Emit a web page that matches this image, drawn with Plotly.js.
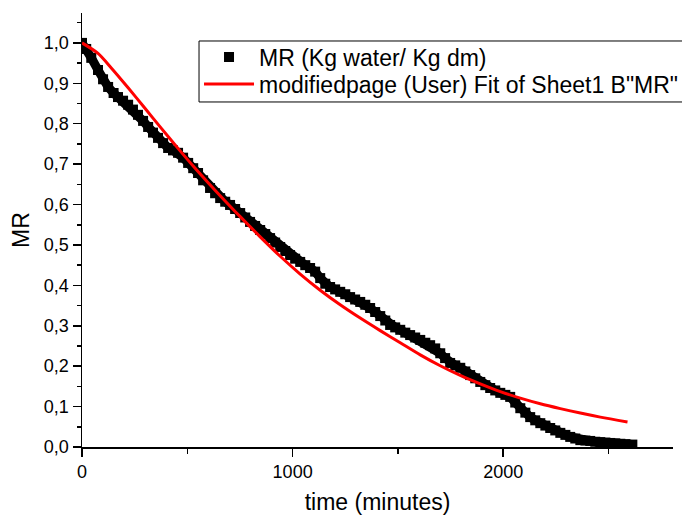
<!DOCTYPE html>
<html>
<head>
<meta charset="utf-8">
<script src="https://cdn.plot.ly/plotly-3.0.1.min.js"></script>
<style>html,body{margin:0;padding:0;background:#fff;}#chart{width:682px;height:515px;}</style>
</head>
<body>
<div id="chart"></div>
<script>
const timeData = [0, 20, 44, 76, 100, 124, 150, 171, 195, 219, 242, 266, 290, 314, 337, 361, 385, 409, 432, 456,
  480, 504, 528, 551, 575, 608, 632, 656, 680, 703, 727, 751, 775, 798, 822, 846, 870, 893, 917, 941,
  965, 988, 1012, 1036, 1060, 1083, 1107, 1131, 1155, 1178, 1202, 1226, 1250, 1273, 1297, 1321, 1345, 1368, 1392, 1416,
  1440, 1463, 1487, 1511, 1535, 1558, 1582, 1606, 1630, 1653, 1677, 1701, 1724, 1748, 1772, 1796, 1820, 1843, 1867, 1891,
  1915, 1938, 1962, 1986, 2010, 2033, 2057, 2081, 2105, 2128, 2152, 2176, 2200, 2223, 2247, 2271, 2295, 2318, 2342, 2366,
  2390, 2413, 2437, 2461, 2485, 2508, 2532, 2556, 2580, 2613];
const mrData = [1.000, 0.985, 0.963, 0.933, 0.910, 0.891, 0.876, 0.866, 0.857, 0.847, 0.835, 0.822, 0.807, 0.792, 0.778, 0.765, 0.752, 0.740, 0.734, 0.728,
  0.716, 0.703, 0.690, 0.678, 0.660, 0.641, 0.628, 0.616, 0.607, 0.599, 0.589, 0.579, 0.568, 0.557, 0.547, 0.537, 0.527, 0.517, 0.506, 0.495,
  0.485, 0.475, 0.466, 0.458, 0.450, 0.443, 0.434, 0.418, 0.404, 0.396, 0.390, 0.384, 0.378, 0.371, 0.365, 0.359, 0.352, 0.344, 0.334, 0.324,
  0.313, 0.302, 0.296, 0.290, 0.283, 0.277, 0.271, 0.265, 0.258, 0.252, 0.244, 0.232, 0.220, 0.208, 0.202, 0.196, 0.187, 0.178, 0.170, 0.161,
  0.153, 0.146, 0.140, 0.134, 0.129, 0.124, 0.110, 0.096, 0.085, 0.074, 0.066, 0.059, 0.053, 0.047, 0.041, 0.035, 0.030, 0.025, 0.021, 0.017,
  0.016, 0.015, 0.013, 0.012, 0.011, 0.010, 0.009, 0.008, 0.007, 0.006];

// Fitted curve
const timeFit = [0, 76, 139, 219, 298, 376, 456, 535, 599, 656, 751, 846, 941, 1036, 1131, 1226, 1321, 1416, 1511, 1606,
  1701, 1796, 1891, 1986, 2081, 2176, 2271, 2366, 2461, 2590];
const mrFit = [1.000, 0.974, 0.938, 0.889, 0.839, 0.789, 0.739, 0.691, 0.654, 0.622, 0.570, 0.520, 0.472, 0.428, 0.388, 0.352, 0.319, 0.288, 0.258, 0.228,
  0.201, 0.177, 0.156, 0.137, 0.121, 0.107, 0.095, 0.084, 0.074, 0.062];

const seriesNames = ['MR (Kg water/ Kg dm)', 'modifiedpage (User) Fit of Sheet1 B"MR"'];
const xTitle = 'time (minutes)';
const yTitle = 'MR';

const FONT = 'Liberation Sans, Arial, Helvetica, sans-serif';

const traces = [
  { // dense band joining the measured squares
    x: timeData, y: mrData, type: 'scatter', mode: 'lines', showlegend: false, hoverinfo: 'skip',
    line: {color: '#000000', width: 9}
  },
  {
    x: timeData, y: mrData, name: seriesNames[0], type: 'scatter', mode: 'markers', legend: 'legend',
    marker: {symbol: 'square', size: 10, color: '#000000', line: {width: 0}}
  },
  {
    x: timeFit, y: mrFit, name: seriesNames[1], type: 'scatter', mode: 'lines', legend: 'legend2',
    line: {color: '#ff0000', width: 3, shape: 'spline', smoothing: 0.8}
  }
];

const axisCommon = {
  showline: true, linecolor: '#000', linewidth: 1.5, mirror: false,
  showgrid: false, zeroline: false,
  ticks: 'outside', ticklen: 8, tickwidth: 1.5, tickcolor: '#000',
  tickfont: {family: FONT, size: 18, color: '#000'}
};

const legendCommon = {
  x: 0.198, xanchor: 'left', yanchor: 'top',
  borderwidth: 0, bgcolor: 'rgba(0,0,0,0)',
  font: {family: FONT, size: 23, color: '#000'},
  itemwidth: 50
};

const layout = {
  width: 682, height: 515,
  margin: {l: 82, r: 9, t: 13, b: 68, autoexpand: false},
  paper_bgcolor: '#fff', plot_bgcolor: '#fff',
  separators: ',.',
  font: {family: FONT, color: '#000'},
  showlegend: true,
  legend: Object.assign({}, legendCommon, {y: 0.948}),
  legend2: Object.assign({}, legendCommon, {y: 0.886}),
  shapes: [{
    type: 'rect', xref: 'paper', yref: 'paper', layer: 'below',
    x0: 0.198, x1: 1.05, y0: 0.795, y1: 0.9355,
    line: {color: '#000', width: 1}, fillcolor: '#fff'
  }],
  xaxis: Object.assign({}, axisCommon, {
    range: [0, 2806], tick0: 0, dtick: 1000, automargin: true,
    minor: {dtick: 500, ticks: 'outside', ticklen: 5, tickwidth: 1.5, tickcolor: '#000', showgrid: false},
    title: {text: xTitle, font: {family: FONT, size: 23, color: '#000'}, standoff: 18}
  }),
  yaxis: Object.assign({}, axisCommon, {
    range: [0, 1.074], tick0: 0, dtick: 0.1, tickformat: '.1f',
    minor: {dtick: 0.05, ticks: 'outside', ticklen: 4, tickwidth: 1.5, tickcolor: '#000', showgrid: false},
    title: {text: yTitle, font: {family: FONT, size: 23, color: '#000'}, standoff: 8}
  })
};

Plotly.newPlot('chart', traces, layout, {displayModeBar: false, staticPlot: true});
</script>
</body>
</html>
